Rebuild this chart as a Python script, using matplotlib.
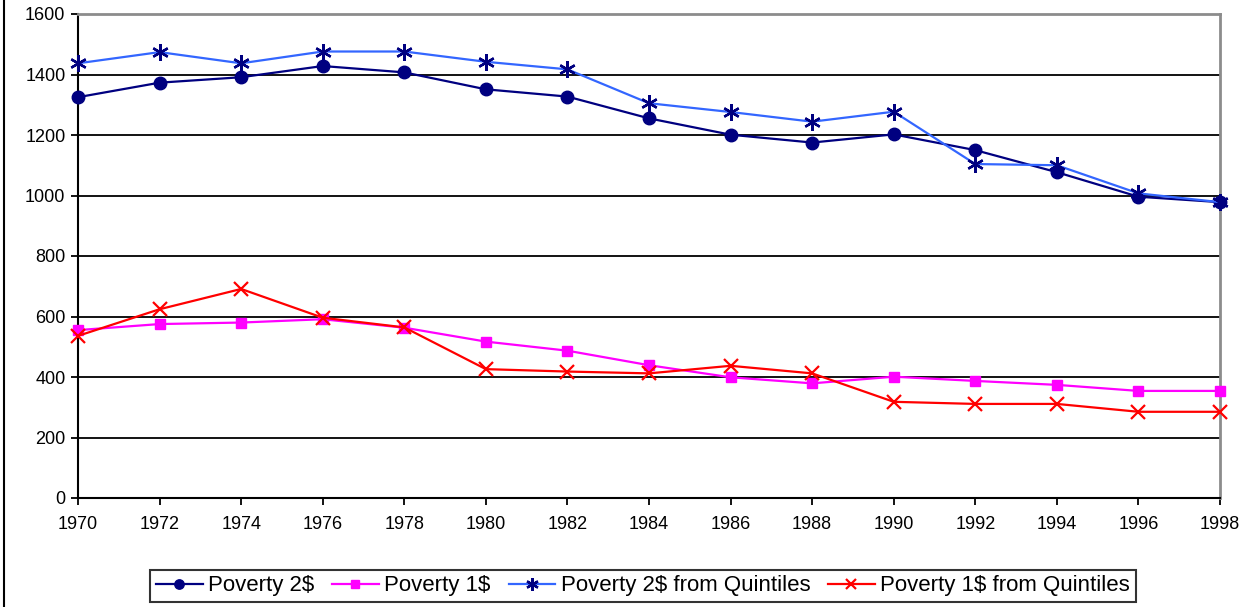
import matplotlib.pyplot as plt
from matplotlib.lines import Line2D

years = list(range(1970, 1999, 2))

poverty_2 = [1325, 1373, 1391, 1428, 1407, 1351, 1327, 1255, 1201, 1175,
             1202, 1150, 1077, 996, 978]
poverty_1 = [555, 575, 580, 591, 563, 517, 487, 439, 399, 379,
             401, 387, 374, 354, 354]
poverty_2_quint = [1437, 1474, 1437, 1476, 1476, 1442, 1417, 1305, 1276, 1244,
                   1277, 1104, 1100, 1007, 978]
poverty_1_quint = [536, 624, 691, 596, 564, 426, 418, 412, 437, 412,
                   318, 311, 311, 285, 285]

labels = ["Poverty 2$", "Poverty 1$", "Poverty 2$ from Quintiles",
          "Poverty 1$ from Quintiles"]

W, H = 1257, 607
plt.rcParams["font.family"] = ["Liberation Sans", "DejaVu Sans"]

fig = plt.figure(figsize=(W / 100, H / 100), dpi=100)
ax = fig.add_axes([78 / W, 1 - 498 / H, (1220 - 78) / W, (498 - 14) / H])

ax.plot(years, poverty_2, color="#000080", lw=1.6, marker="o", ms=9,
        mfc="#000080", mec="#000080", label=labels[0], clip_on=False, zorder=3)
ax.plot(years, poverty_1, color="#FF00FF", lw=1.6, marker="s", ms=7.5,
        mfc="#FF00FF", mec="#FF00FF", label=labels[1], clip_on=False, zorder=3)
ax.plot(years, poverty_2_quint, color="#3366FF", lw=1.6, marker=(6, 2, 0), ms=12,
        mec="#000080", mew=1.7, label=labels[2], clip_on=False, zorder=3)
ax.plot(years, poverty_1_quint, color="#FF0000", lw=1.6, marker="x", ms=10,
        mec="#FF0000", mew=1.6, label=labels[3], clip_on=False, zorder=3)

ax.set_xlim(1970, 1998)
ax.set_ylim(0, 1600)
ax.set_xticks(years)
ax.set_yticks(range(0, 1601, 200))
ax.tick_params(axis="both", labelsize=13, length=5, width=1.3, direction="out",
               color="black")
ax.tick_params(axis="x", pad=8)
ax.tick_params(axis="y", pad=4)
ax.yaxis.grid(True, color="black", lw=1.3)
ax.set_axisbelow(True)

for side in ("left", "bottom"):
    ax.spines[side].set_color("black")
    ax.spines[side].set_linewidth(1.5)
for side in ("top", "right"):
    ax.spines[side].set_color("#8c8c8c")
    ax.spines[side].set_linewidth(2)

# outer chart frame edge on the left
fig.add_artist(Line2D([3.5 / W, 3.5 / W], [0, 1], transform=fig.transFigure,
                      color="black", lw=1.5))

leg = fig.legend(loc="center", bbox_to_anchor=(643 / W, 1 - 586 / H), ncol=4,
                 frameon=True, fancybox=False, edgecolor="black",
                 handlelength=2.1, handletextpad=0.25, columnspacing=0.8,
                 borderpad=0.25, borderaxespad=0, markerscale=0.75,
                 prop={"size": 16})
leg.get_frame().set_linewidth(1.5)

fig.savefig("out.png", dpi=100)
